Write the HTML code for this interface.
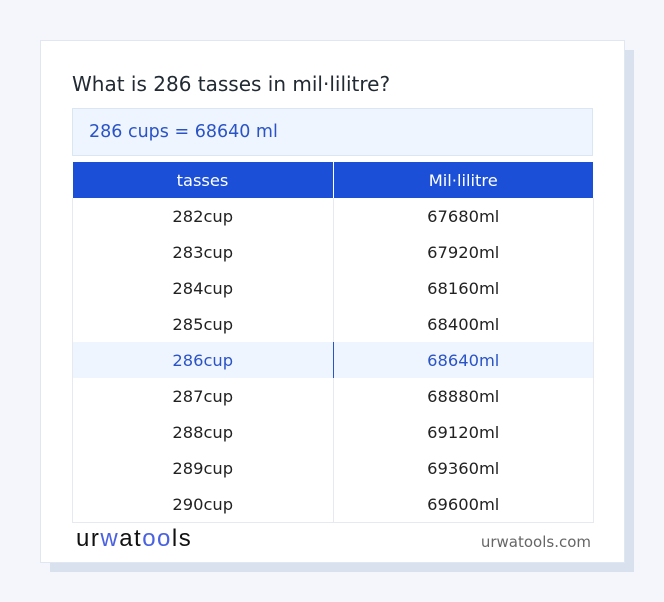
<!DOCTYPE html>
<html><head><style>
body{margin:0;width:664px;height:602px;background:#f4f6fb;font-family:"DejaVu Sans","Liberation Sans",sans-serif;position:relative;overflow:hidden}
.sh{position:absolute;left:50px;top:50px;width:584px;height:522px;background:#dae1ee}
.card{position:absolute;left:40px;top:40px;width:583px;height:521px;background:#fff;border:1px solid #e1e7f2}
.t{position:absolute;left:72px;top:72px;font-size:20px;color:#222a33}
.res{position:absolute;left:72px;top:108px;height:46px;background:#eef5fe;border:1px solid #dbe6f5;color:#2a53c6;font-size:17.5px;line-height:46px;padding-left:16px;width:503px}
table{position:absolute;left:72px;top:162px;width:522px;border-collapse:collapse;font-size:16.3px;color:#222}
th{background:#1b4fd7;color:#fff;font-weight:normal;height:36px;width:50%;border-right:1px solid #fff;padding:0}
td{height:36px;text-align:center;border-left:1px solid #e6eaf0;border-right:1px solid #e6eaf0;padding:0}
tr:last-child td{border-bottom:1px solid #e6eaf0}
tr.h td{background:#eef5fe;color:#2a53c6}
tr.h td:first-child{border-right:1px solid #2a53c6}
.logo{position:absolute;left:76px;top:525px;font-size:24px;color:#111;font-family:"Liberation Sans",sans-serif;letter-spacing:1.5px}
.logo b{color:#4a62e0;font-weight:normal}
.dom{position:absolute;right:73px;top:533px;font-size:15px;color:#666}
</style></head><body>
<div class="sh"></div><div class="card"></div>
<div class="t">What is 286 tasses in mil·lilitre?</div>
<div class="res">286 cups = 68640 ml</div>
<table>
<tr><th>tasses</th><th>Mil·lilitre</th></tr>
<tr><td>282cup</td><td>67680ml</td></tr>
<tr><td>283cup</td><td>67920ml</td></tr>
<tr><td>284cup</td><td>68160ml</td></tr>
<tr><td>285cup</td><td>68400ml</td></tr>
<tr class="h"><td>286cup</td><td>68640ml</td></tr>
<tr><td>287cup</td><td>68880ml</td></tr>
<tr><td>288cup</td><td>69120ml</td></tr>
<tr><td>289cup</td><td>69360ml</td></tr>
<tr><td>290cup</td><td>69600ml</td></tr>
</table>
<div class="logo">ur<b>w</b>at<b>oo</b>ls</div>
<div class="dom">urwatools.com</div>
</body></html>
